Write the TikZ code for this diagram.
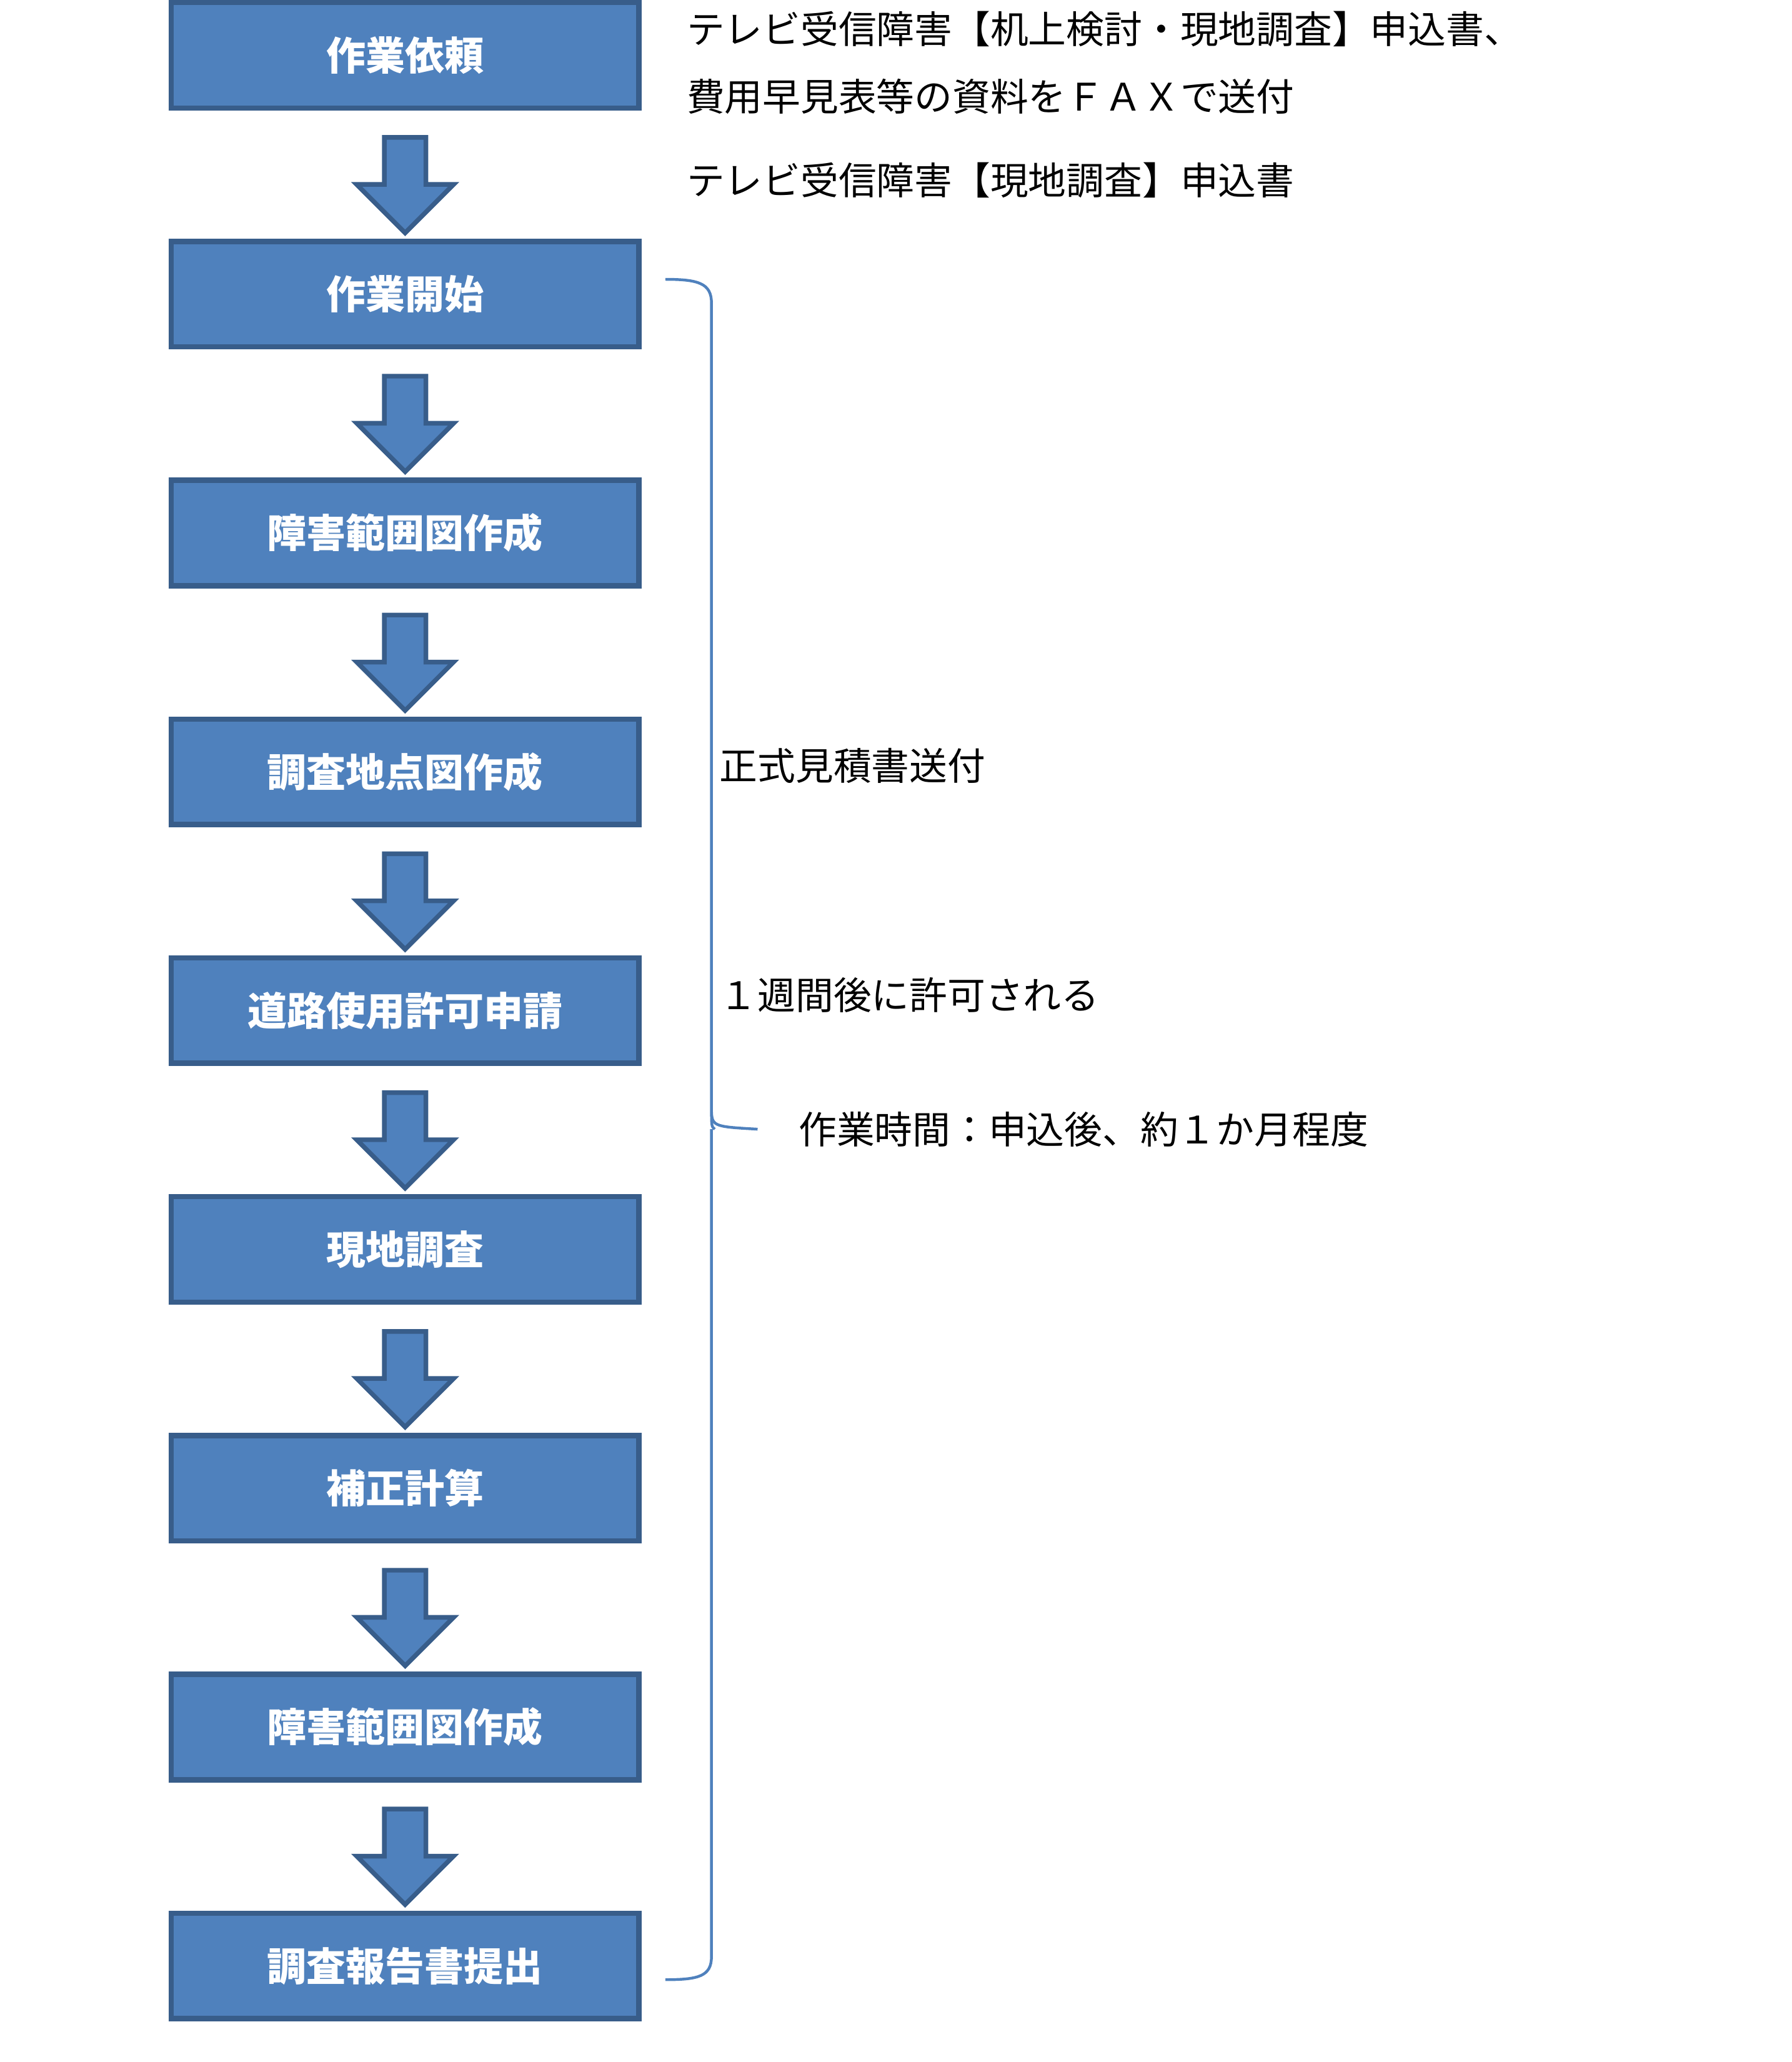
\documentclass[tikz,border=0pt]{standalone}
\usepackage{fontspec}
\setmainfont{Noto Sans CJK JP}
\usetikzlibrary{shapes.arrows, calc, positioning}
\definecolor{boxfill}{HTML}{4F81BD}
\definecolor{boxline}{HTML}{385D8A}
\begin{document}
\begin{tikzpicture}
        \tikzset{block/.style = {draw=boxline, fill=boxfill, line width=2.3pt, minimum width=7.1cm,
        minimum height=1.6cm, text=white, font=\fontsize{17}{20}\selectfont\bfseries},
        down/.style = {single arrow, draw=boxline, fill=boxfill, line width=2pt, rotate=-90,
        minimum height=1.45cm, inner sep=0.28cm, single arrow head extend=0.42cm},
        note/.style = {anchor=west, font=\fontsize{16.4}{19}\selectfont}}
        \useasboundingbox (0,0) rectangle (27.2,-31.3);
        %Creating Blocks
        \foreach \i/\t in {1/作業依頼, 2/作業開始, 3/障害範囲図作成, 4/調査地点図作成, 5/道路使用許可申請,
                6/現地調査, 7/補正計算, 8/障害範囲図作成, 9/調査報告書提出}
            \node [block] (b\i) at (6.15, {-0.84-3.625*(\i-1)}) {\t};
        %Connecting Blocks
        \foreach \i [evaluate=\i as \j using int(\i+1)] in {1,...,8}
            \node [down] (a\i) at ($(b\i.south)!0.5!(b\j.north)$) {};
        %Notes
        \node [note] (req1) at (10.3,-0.44) {テレビ受信障害【机上検討・現地調査】申込書、};
        \node [note] (req2) at (10.3,-1.46) {費用早見表等の資料をＦＡＸで送付};
        \node [note] (req3) at (10.3,-2.74) {テレビ受信障害【現地調査】申込書};
        \node [note] (quote) at (10.8,-11.62) {正式見積書送付};
        \node [note] (permit) at (10.8,-15.1) {１週間後に許可される};
        \node [note] (period) at (12.0,-17.14) {作業時間：申込後、約１か月程度};
        %Brace
        \coordinate (tip) at (11.5,-17.14);
        \draw [boxfill, line width=1.2pt] (10.1,-4.24) .. controls (10.6,-4.24) and (10.8,-4.3) .. (10.8,-4.6)
            -- (10.8,-16.8) .. controls (10.8,-17.1) .. (tip)
            (10.8,-16.8) .. controls (10.8,-17.1) .. (10.85,-17.14)
            (10.8,-17.14) -- (10.8,-29.7) .. controls (10.8,-30.0) and (10.6,-30.05) .. (10.1,-30.05);
\end{tikzpicture}
\end{document}
